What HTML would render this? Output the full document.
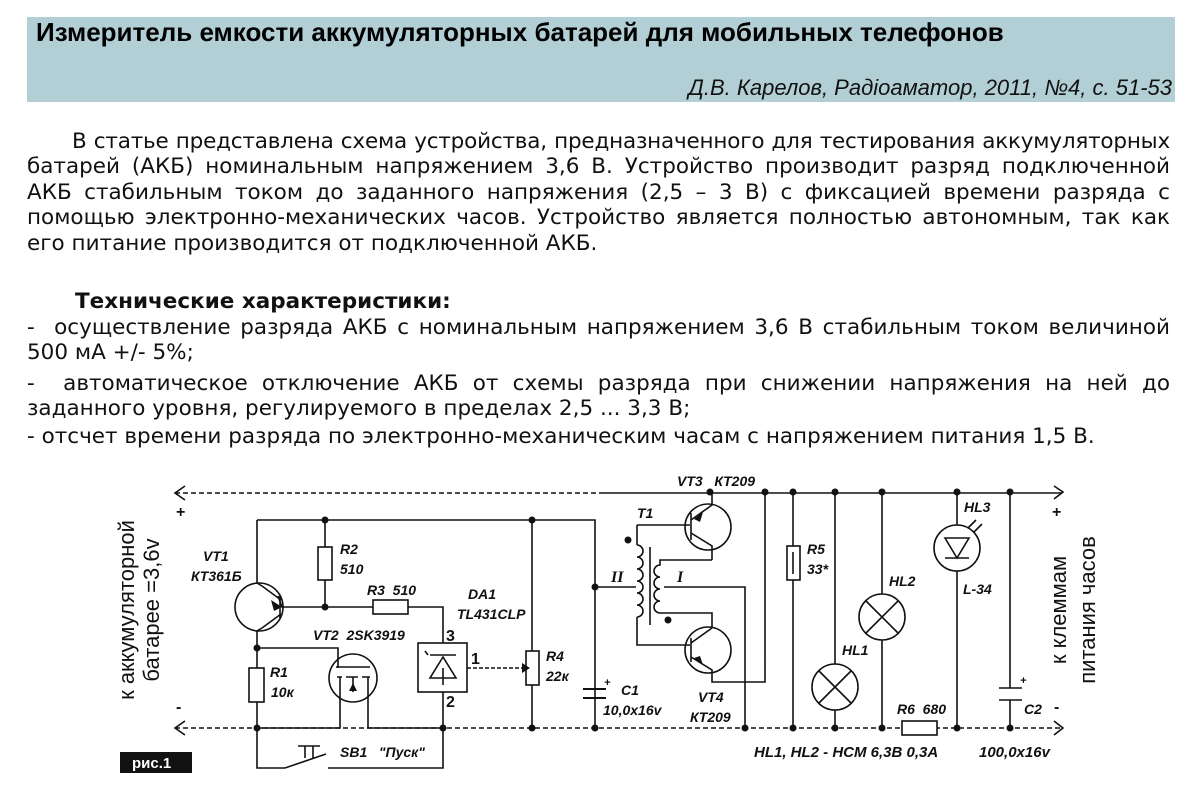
<!DOCTYPE html>
<html><head><meta charset="utf-8">
<style>
body{margin:0;width:1200px;height:788px;background:#fff;position:relative;overflow:hidden;font-family:"DejaVu Sans","Liberation Sans",sans-serif;color:#111}
.band{position:absolute;left:27px;top:17px;width:1148px;height:85px;background:#b3cfd6}
.title{position:absolute;left:36px;top:17px;font:bold 26px "Liberation Sans",sans-serif;color:#000}
.auth{position:absolute;right:28px;top:75px;font:italic 22px "Liberation Sans",sans-serif;color:#111}
.l{position:absolute;left:27px;width:1143px;font-size:21.5px;white-space:nowrap;line-height:25px}
.j{text-align:justify;text-align-last:justify;white-space:normal;word-spacing:-4px}
svg{position:absolute;left:0;top:0}
svg text{font-family:"Liberation Sans",sans-serif;font-style:italic;font-weight:bold;font-size:14px;fill:#111}
</style></head><body>
<div class="band"></div>
<div class="title">Измеритель емкости аккумуляторных батарей для мобильных телефонов</div>
<div class="auth">Д.В. Карелов, Радіоаматор, 2011, №4, с. 51-53</div>

<div class="l j" style="top:129px;padding-left:45px;width:1098px;letter-spacing:-0.2px">В статье представлена схема устройства, предназначенного для тестирования аккумуляторных</div>
<div class="l j" style="top:154px">батарей (АКБ) номинальным напряжением 3,6 В. Устройство производит разряд подключенной</div>
<div class="l j" style="top:180px">АКБ стабильным током до заданного напряжения (2,5 – 3 В) с фиксацией времени разряда с</div>
<div class="l j" style="top:205px">помощью электронно-механических часов. Устройство является полностью автономным, так как</div>
<div class="l" style="top:231px">его питание производится от подключенной АКБ.</div>
<div class="l" style="top:289px;left:75px;font-weight:bold">Технические характеристики:</div>
<div class="l j" style="top:315px">-&nbsp; осуществление разряда АКБ с номинальным напряжением 3,6 В стабильным током величиной</div>
<div class="l" style="top:340px">500 мА +/- 5%;</div>
<div class="l j" style="top:371px">-&nbsp; автоматическое отключение АКБ от схемы разряда при снижении напряжения на ней до</div>
<div class="l" style="top:396px">заданного уровня, регулируемого в пределах 2,5 ... 3,3 В;</div>
<div class="l" style="top:424px">- отсчет времени разряда по электронно-механическим часам с напряжением питания 1,5 В.</div>

<svg width="1200" height="788" viewBox="0 0 1200 788">
<g stroke="#111" stroke-width="1.6" fill="none">
<path d="M175 493 H600" stroke-dasharray="5 3"/><path d="M600 493 H1062"/>
<path d="M175 728 H1062" stroke-dasharray="5 3"/>
<path d="M185 486 L175 493 L185 500 M1054 486 L1063 492 L1054 499 M185 721 L175 728 L185 735 M1054 721 L1063 728 L1054 735"/>
<path d="M257 520 H595 V728"/>
<path d="M257 520 V583 M278 596 L282 607 H373 M408 607 H443 V643"/>
<circle cx="259" cy="607" r="24"/>
<path d="M280 595 V619 M281 600 L262 586 L257 583 M281 614 L262 628 L257 631 V648"/>
<path d="M325 520 V547 M325 580 V607"/>
<rect x="318" y="547" width="14" height="33"/>
<rect x="373" y="600" width="35" height="14"/>
<path d="M257 648 V668 M257 702 V728"/><rect x="249" y="668" width="15" height="34"/>
<path d="M257 648 H338 V668"/>
<circle cx="353" cy="678" r="24"/>
<path d="M336 667 H370 M337 677 H342 M346 677 H358 M362 677 H370 M340 677 V728 H257 M368 677 V728 H443"/>
<path d="M353 677 V692"/>
<rect x="418" y="643" width="49" height="49"/>
<path d="M443 692 V728 M430 655 H456 M443 657 L430 678 H456 Z M443 668 V685 M428 655 L425 651"/>
<path d="M467 668 H522" stroke-dasharray="4 2"/>
<path d="M532 520 V651 M532 685 V728"/><rect x="526" y="651" width="13" height="34"/>
<path d="M257 728 V768 H285 L326 754 M328 768 H443 V728 M298 746 H320 M305 746 V758 M313 746 V758"/>
<path d="M583 689 H606 M583 698 H606" stroke-width="2"/>
<path d="M595 587 H636"/>
<path d="M637 525 H690 M637 525 V545 M637 545 a6 6 0 0 1 0 12 a6 6 0 0 1 0 12 a6 6 0 0 1 0 12 a6 6 0 0 1 0 12 a6 6 0 0 1 0 12 a6 6 0 0 1 0 12 M637 617 V645 H690"/>
<path d="M650 547 V625"/>
<path d="M712 560 H660 V565 a6 6 0 0 0 0 12 a6 6 0 0 0 0 12 a6 6 0 0 0 0 12 a6 6 0 0 0 0 12 V613 H712 V628"/>
<path d="M664 587 H745 V728"/>
<circle cx="708" cy="527" r="23"/><circle cx="708" cy="650" r="23"/>
<path d="M691 513 V540 M691 520 L712 505 V492 M691 533 L712 546 V560"/>
<path d="M691 638 V662 M691 643 L712 628 M691 657 L712 670 V682 H765 V492"/>
<path d="M793 492 V546 M793 580 V728"/><rect x="787" y="546" width="13" height="34"/><path d="M793 552 V574"/>
<path d="M835 492 V664 M835 710 V728"/><circle cx="835" cy="687" r="23"/><path d="M819 671 L851 703 M851 671 L819 703"/>
<path d="M882 492 V594 M882 640 V728"/><circle cx="882" cy="617" r="23"/><path d="M866 601 L898 633 M898 601 L866 633"/>
<rect x="902" y="721" width="35" height="14" fill="#fff"/>
<path d="M957 492 V525 M957 571 V728"/><circle cx="957" cy="548" r="23"/><path d="M945 538 H969 L957 558 Z M945 558 H969"/>
<path d="M968 528 L976 520 M974 532 L982 524"/>
<path d="M1010 492 V688 M1010 700 V728 M999 688 H1022 M999 700 H1022" />
</g>
<g fill="#111">
<circle cx="325" cy="520" r="3.5"/><circle cx="532" cy="520" r="3.5"/><circle cx="325" cy="607" r="3.5"/>
<circle cx="257" cy="648" r="3.5"/><circle cx="257" cy="728" r="3.5"/><circle cx="443" cy="728" r="3.5"/>
<circle cx="532" cy="728" r="3.5"/><circle cx="595" cy="587" r="3.5"/><circle cx="595" cy="728" r="3.5"/>
<circle cx="628" cy="540" r="3.5"/><circle cx="668" cy="620" r="3.5"/>
<circle cx="710" cy="492" r="3.5"/><circle cx="765" cy="492" r="3.5"/><circle cx="793" cy="492" r="3.5"/><circle cx="835" cy="492" r="3.5"/><circle cx="882" cy="492" r="3.5"/><circle cx="957" cy="492" r="3.5"/><circle cx="1010" cy="492" r="3.5"/>
<circle cx="745" cy="728" r="3.5"/><circle cx="793" cy="728" r="3.5"/><circle cx="835" cy="728" r="3.5"/><circle cx="882" cy="728" r="3.5"/><circle cx="957" cy="728" r="3.5"/><circle cx="1010" cy="728" r="3.5"/>
<path d="M282 607 L271 600 L274 611 Z M522 663 L530 668 L522 673 Z M353 683 L349 691 L357 691 Z M694 519 L703 512 L700 522 Z M694 658 L703 665 L700 656 Z"/>
<rect x="120" y="752" width="72" height="21"/>
</g>
<text x="132" y="768" style="font-style:normal;fill:#fff;font-size:15px">рис.1</text>
<text x="176" y="517" style="font-style:normal;font-size:16px">+</text>
<text x="176" y="712" style="font-style:normal;font-size:16px">-</text>
<text x="1052" y="517" style="font-style:normal;font-size:16px">+</text>
<text x="1054" y="712" style="font-style:normal;font-size:16px">-</text>
<text transform="translate(134,610) rotate(-90)" text-anchor="middle" style="font-style:normal;font-weight:normal;font-size:22px">к аккумуляторной</text>
<text transform="translate(159,610) rotate(-90)" text-anchor="middle" style="font-style:normal;font-weight:normal;font-size:22px">батарее =3,6v</text>
<text transform="translate(1066,610) rotate(-90)" text-anchor="middle" style="font-style:normal;font-weight:normal;font-size:22px">к клеммам</text>
<text transform="translate(1095,610) rotate(-90)" text-anchor="middle" style="font-style:normal;font-weight:normal;font-size:22px">питания часов</text>
<text x="203" y="561">VT1</text><text x="191" y="581">КТ361Б</text>
<text x="340" y="554">R2</text><text x="340" y="574">510</text>
<text x="367" y="595">R3&#160;&#160;510</text>
<text x="468" y="599">DA1</text><text x="457" y="619">TL431CLP</text>
<text x="313" y="640">VT2&#160;&#160;2SK3919</text>
<text x="270" y="677">R1</text><text x="271" y="697">10к</text>
<text x="446" y="641" style="font-style:normal;font-size:16px">3</text>
<text x="471" y="664" style="font-style:normal;font-size:16px">1</text>
<text x="446" y="707" style="font-style:normal;font-size:16px">2</text>
<text x="546" y="661">R4</text><text x="546" y="681">22к</text>
<text x="340" y="757">SB1&#160;&#160;&#160;"Пуск"</text>
<text x="621" y="695">C1</text><text x="603" y="715">10,0x16v</text>
<text x="677" y="486">VT3&#160;&#160;&#160;КТ209</text>
<text x="637" y="518">T1</text>
<text x="611" y="582" style="font-family:'Liberation Serif',serif;font-size:16px">II</text>
<text x="677" y="582" style="font-family:'Liberation Serif',serif;font-size:16px">I</text>
<text x="698" y="702">VT4</text><text x="690" y="722">КТ209</text>
<text x="807" y="554">R5</text><text x="807" y="574">33*</text>
<text x="842" y="655">HL1</text><text x="889" y="586">HL2</text>
<text x="964" y="512">HL3</text><text x="963" y="594">L-34</text>
<text x="897" y="714">R6&#160;&#160;680</text>
<text x="1020" y="684" style="font-size:11px">+</text><text x="604" y="686" style="font-size:11px">+</text>
<text x="1024" y="714">C2</text>
<text x="754" y="757" style="font-size:15px">HL1, HL2 - НСМ 6,3В 0,3А</text>
<text x="979" y="757" style="font-size:15px">100,0x16v</text>
</svg>
</body></html>
